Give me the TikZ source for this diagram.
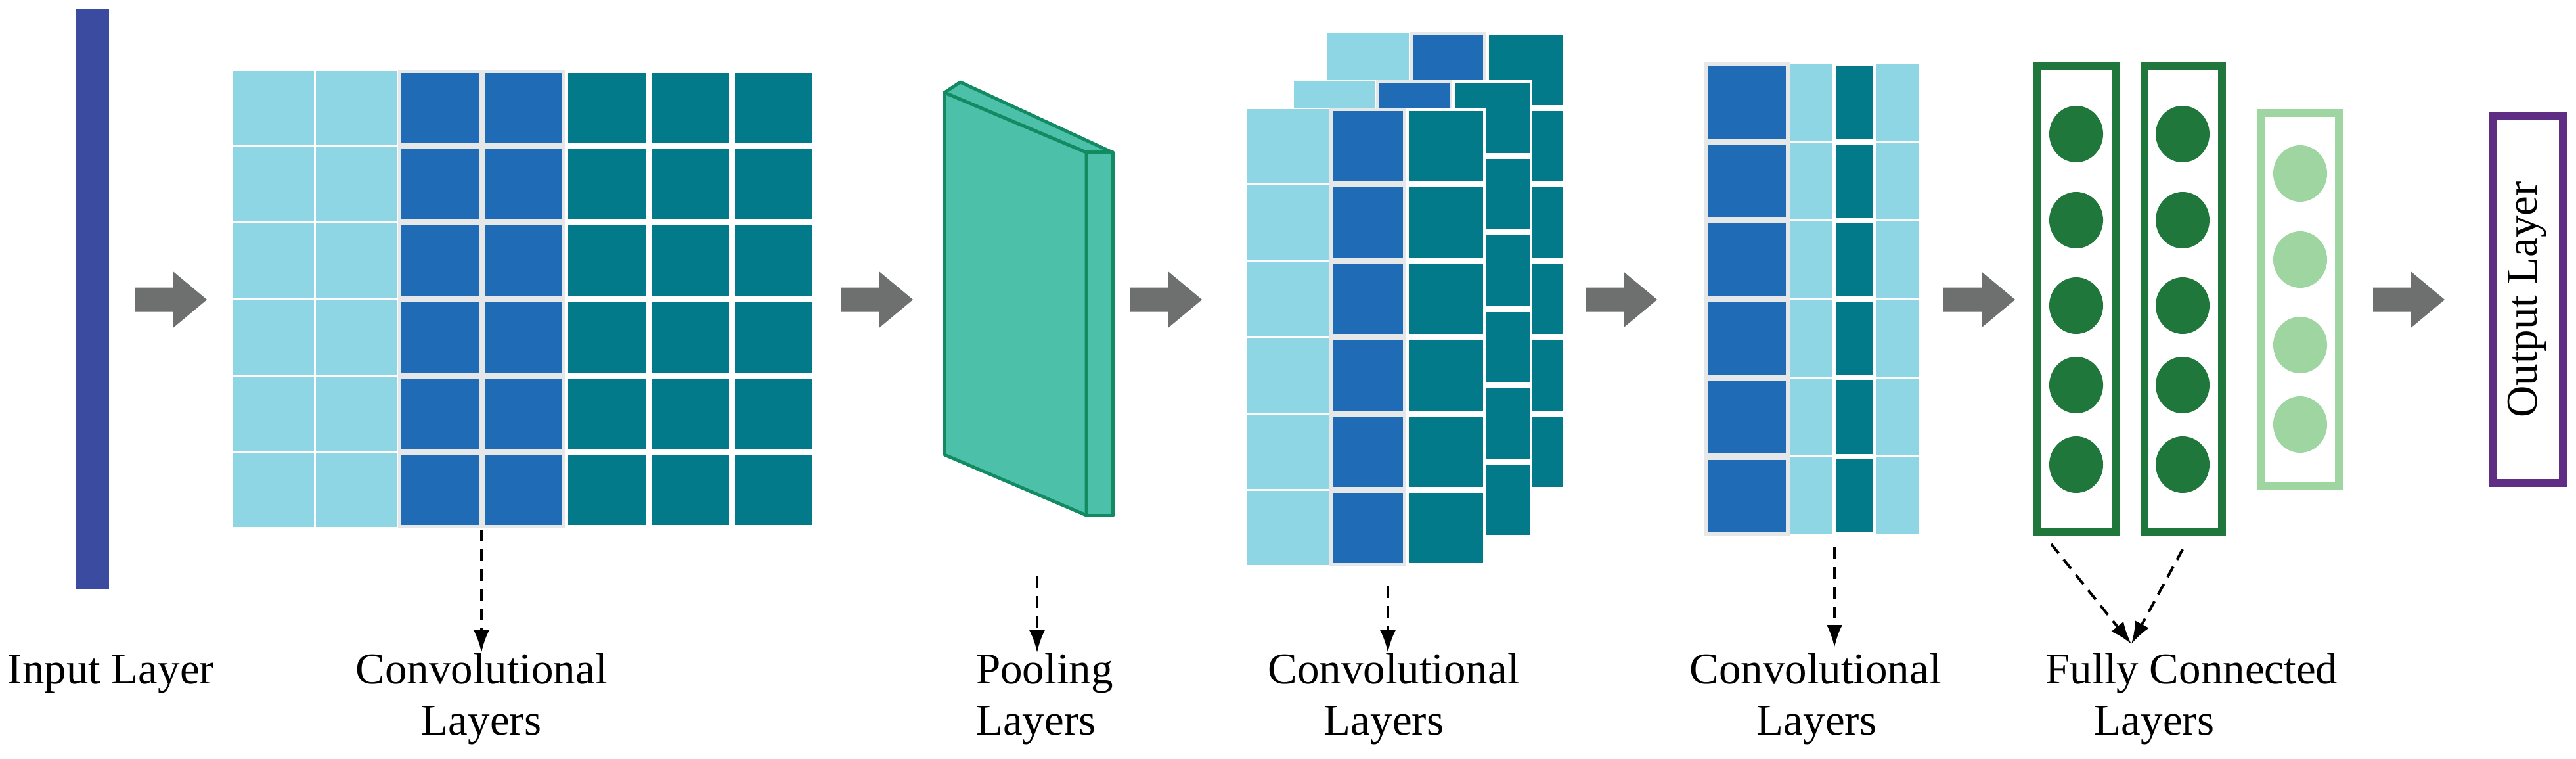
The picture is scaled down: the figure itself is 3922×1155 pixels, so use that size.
\documentclass[tikz,border=0pt]{standalone}
\usepackage{fontspec}
\setmainfont{Liberation Serif}
\newfontfamily\lblfont{Liberation Serif}
\usetikzlibrary{arrows.meta}
\definecolor{inblue}{HTML}{3A4BA0}
\definecolor{lightblue}{HTML}{8FD6E4}
\definecolor{midblue}{HTML}{1F6BB5}
\definecolor{tealc}{HTML}{037A89}
\definecolor{gapgray}{HTML}{E6E7E8}
\definecolor{slabfill}{HTML}{4CC0A9}
\definecolor{slabline}{HTML}{128A62}
\definecolor{dkgreen}{HTML}{1F773C}
\definecolor{ltgreen}{HTML}{9ED5A0}
\definecolor{outpurple}{HTML}{5F2D84}
\definecolor{arrgray}{HTML}{6E6F6F}
\newcommand{\mycells}[6]{%
  \foreach \j in {0,...,5}{\fill[#5] ({#1+#6/2},{#3+\j*#4+#6/2}) rectangle ({#2-#6/2},{#3+(\j+1)*#4-#6/2});}}
\newcommand{\stackgrid}[2]{%
  \fill[white] ({1897+#1},{165+#2}) rectangle ({2262+#1},{861+#2});
  \fill[gapgray] ({2024+#1},{165+#2}) rectangle ({2140+#1},{861+#2});
  \mycells{1897+#1}{2024+#1}{165+#2}{116}{lightblue}{3}
  \mycells{2024+#1}{2140+#1}{165+#2}{116}{midblue}{9}
  \mycells{2140+#1}{2262+#1}{165+#2}{116}{tealc}{9}}
\tikzset{
  blockarrow/.pic={\fill[arrgray] (0,-18.5) -- (58,-18.5) -- (58,-42.5) -- (109,0) -- (58,42.5) -- (58,18.5) -- (0,18.5) -- cycle;},
  lbl/.style={font=\lblfont\fontsize{67}{78}\selectfont, inner sep=0pt},
  dasharr/.style={draw=black, line width=4pt, dash pattern=on 18pt off 12pt, -{Latex[length=34pt,width=24pt]}},
  fcbox/.style={draw=dkgreen, line width=12pt},
  fcdot/.style={fill=dkgreen},
  ltdot/.style={fill=ltgreen}
}
\begin{document}
\begin{tikzpicture}[x=1pt,y=-1pt]
\useasboundingbox (0,0) rectangle (3922,1155);
% input layer
\fill[inblue] (116,14) rectangle (166,896);
% block arrows
\pic at (206,456) {blockarrow};
\pic at (1281,456) {blockarrow};
\pic at (1721,456) {blockarrow};
\pic at (2414,456) {blockarrow};
\pic at (2959,456) {blockarrow};
\pic at (3613,456) {blockarrow};
% convolutional grid 1
\fill[gapgray] (606,107) rectangle (860,803);
\mycells{352}{479}{107}{116}{lightblue}{3}
\mycells{479}{606}{107}{116}{lightblue}{3}
\mycells{606}{733}{107}{116}{midblue}{9}
\mycells{733}{860}{107}{116}{midblue}{9}
\mycells{860}{987}{107}{116}{tealc}{9}
\mycells{987}{1114}{107}{116}{tealc}{9}
\mycells{1114}{1241}{107}{116}{tealc}{9}
% pooling slab
\filldraw[fill=slabfill, draw=slabline, line width=5pt, line join=round]
  (1438,141) -- (1462,125) -- (1694,232) -- (1654,232) -- cycle;
\filldraw[fill=slabfill, draw=slabline, line width=5pt, line join=round]
  (1654,232) -- (1694,232) -- (1694,784) -- (1654,784) -- cycle;
\filldraw[fill=slabfill, draw=slabline, line width=5pt, line join=round]
  (1438,141) -- (1654,232) -- (1654,784) -- (1438,692) -- cycle;
% stacked convolutional grids
\stackgrid{122}{-116}
\stackgrid{71}{-43}
\stackgrid{0}{0}
% convolutional grid 3
\fill[gapgray] (2594,94) rectangle (2726,816);
\mycells{2596}{2724}{96}{119.7}{midblue}{10}
\mycells{2724}{2791}{96}{119.7}{lightblue}{3}
\mycells{2791}{2855}{96}{119.7}{tealc}{8}
\mycells{2855}{2922}{96}{119.7}{lightblue}{3}
% fully connected
\draw[fcbox] (3102,100) rectangle (3222,810);
\draw[fcbox] (3265,100) rectangle (3383,810);
\draw[draw=ltgreen, line width=12pt] (3443,172) rectangle (3561,739);
\foreach \yy in {204,335,465,586,707}{
  \fill[fcdot] (3161,\yy) ellipse [x radius=41, y radius=43];
  \fill[fcdot] (3323,\yy) ellipse [x radius=41, y radius=43];}
\foreach \yy in {264,395,525,646}{
  \fill[ltdot] (3502,\yy) ellipse [x radius=41, y radius=43];}
% output layer
\draw[draw=outpurple, line width=12pt] (3795,177) rectangle (3902,735);
\node[lbl, rotate=90] (out) at (3848,456) {Output Layer};
% labels
\node[lbl, anchor=base] (inp) at (169,1040) {Input Layer};
\node[lbl, anchor=base] (conv1a) at (733,1040) {Convolutional};
\node[lbl, anchor=base] (conv1b) at (733,1118) {Layers};
\node[lbl, anchor=base west] (poola) at (1486,1040) {Pooling};
\node[lbl, anchor=base west] (poolb) at (1486,1118) {Layers};
\node[lbl, anchor=base] (conv2a) at (2122,1040) {Convolutional};
\node[lbl, anchor=base] (conv2b) at (2107,1118) {Layers};
\node[lbl, anchor=base] (conv3a) at (2764,1040) {Convolutional};
\node[lbl, anchor=base] (conv3b) at (2766,1118) {Layers};
\node[lbl, anchor=base] (fca) at (3337,1040) {Fully Connected};
\node[lbl, anchor=base] (fcb) at (3280,1118) {Layers};
% dashed pointers
\coordinate (s1) at (733,806);
\coordinate (t1) at (733,993);
\coordinate (s2) at (1579,877);
\coordinate (t2) at (1579,993);
\coordinate (s3) at (2113,892);
\coordinate (t3) at (2113,993);
\coordinate (s4) at (2793,833);
\coordinate (t4) at (2793,985);
\coordinate (s5) at (3123,828);
\coordinate (s6) at (3323,836);
\coordinate (t5) at (3245,980);
\draw[dasharr] (s1) -- (t1);
\draw[dasharr] (s2) -- (t2);
\draw[dasharr] (s3) -- (t3);
\draw[dasharr] (s4) -- (t4);
\draw[dasharr] (s5) -- (t5);
\draw[dasharr] (s6) -- (t5);
\end{tikzpicture}
\end{document}
